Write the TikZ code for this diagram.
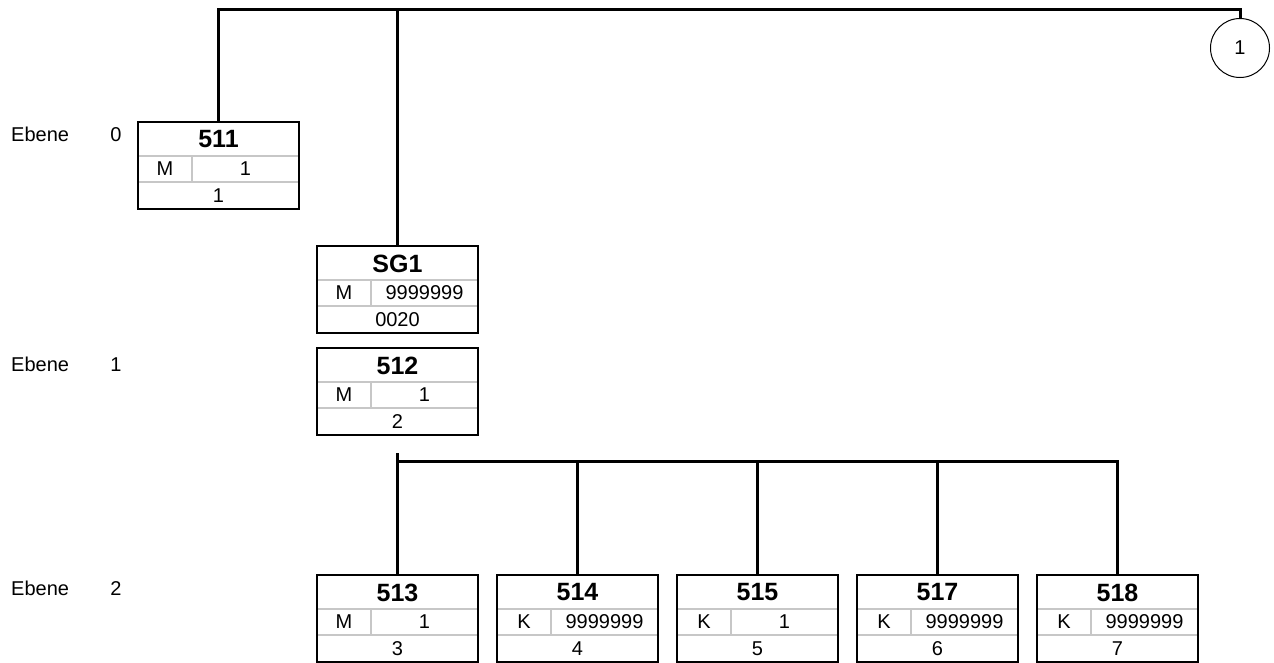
\documentclass[tikz,border=0pt]{standalone}
\usepackage{fontspec}
\setmainfont{Liberation Sans}
\tikzset{
  ebox/.style={rectangle, inner sep=0pt, outer sep=0pt, minimum width=161pt, minimum height=87pt},
  eborder/.style={draw=black, line width=2.4pt},
  sep/.style={draw=black!22, line width=1.3pt},
  txt/.style={inner sep=0pt, font=\fontsize{20}{22}\selectfont},
  ttl/.style={inner sep=0pt, font=\fontsize{25}{27}\selectfont\bfseries},
  conn/.style={draw=black, line width=3pt, line join=miter},
  circ/.style={circle, draw=black, line width=1pt, minimum size=59pt, inner sep=0pt, font=\fontsize{20}{22}\selectfont},
  lvl/.style={inner sep=0pt, anchor=base west, font=\fontsize{20}{22}\selectfont},
  lvlnum/.style={inner sep=0pt, anchor=base, font=\fontsize{20}{22}\selectfont}
}
\newcommand\mkbox[7]{%
  \node[ebox] (#1) at (#2+80.5,#3+43.5) {};
  \draw[sep] (#2,#3+34) -- (#2+161,#3+34);
  \draw[sep] (#2,#3+60) -- (#2+161,#3+60);
  \draw[sep] (#2+54,#3+34) -- (#2+54,#3+60);
  \node[ttl] (#1-t) at (#2+80.5,#3+17.5) {#4};
  \node[txt] (#1-s) at (#2+27,#3+47) {#5};
  \node[txt] (#1-r) at (#2+107.5,#3+47) {#6};
  \node[txt] (#1-p) at (#2+80.5,#3+73.5) {#7};
  \draw[eborder] (#1.north west) rectangle (#1.south east);
}
\begin{document}
\begin{tikzpicture}[x=1pt,y=-1pt]
\useasboundingbox (0,0) rectangle (1274,662);
% level labels
\node[lvl] (l0) at (11,141) {Ebene};
\node[lvlnum] (n0) at (116,141) {0};
\node[lvl] (l1) at (11,371) {Ebene};
\node[lvlnum] (n1) at (116,371) {1};
\node[lvl] (l2) at (11,595) {Ebene};
\node[lvlnum] (n2) at (116,595) {2};
% boxes
\mkbox{b511}{138}{122}{511}{M}{1}{1}
\mkbox{sg1}{317}{246}{SG1}{M}{9999999}{0020}
\mkbox{b512}{317}{348}{512}{M}{1}{2}
\mkbox{b513}{317}{575}{513}{M}{1}{3}
\mkbox{b514}{497}{575}{514}{K}{9999999}{4}
\mkbox{b515}{677}{575}{515}{K}{1}{5}
\mkbox{b517}{857}{575}{517}{K}{9999999}{6}
\mkbox{b518}{1037}{575}{518}{K}{9999999}{7}
% connector circle
\node[circ] (c1) at (1240,48) {1};
% top bus
\coordinate (top) at (0,9);
\draw[conn] (b511.north) -- (b511.north |- top) -| (c1.north);
\draw[conn] (sg1.north) -- (sg1.north |- top);
% lower bus
\coordinate (bus) at (0,461);
\coordinate (bustop) at (0,453);
\draw[conn] (b513.north) -- (b513.north |- bustop);
\draw[conn] (b513.north |- bus) -| (b518.north);
\draw[conn] (b514.north) -- (b514.north |- bus);
\draw[conn] (b515.north) -- (b515.north |- bus);
\draw[conn] (b517.north) -- (b517.north |- bus);
\end{tikzpicture}
\end{document}
